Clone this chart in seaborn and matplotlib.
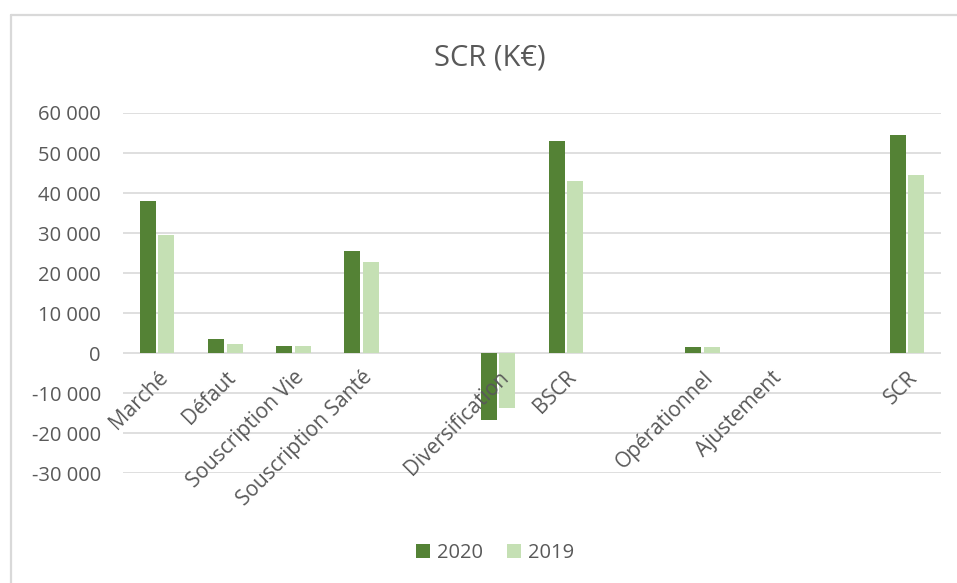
import pandas as pd
import numpy as np
import matplotlib.pyplot as plt
import seaborn as sns
from matplotlib.ticker import FuncFormatter, MultipleLocator
from matplotlib.lines import Line2D

# Data (K€); blank slots are empty categories
categories = ["Marché", "Défaut", "Souscription Vie", "Souscription Santé", " ",
              "Diversification", "BSCR", "  ", "Opérationnel", "Ajustement", "   ", "SCR"]
scr_2020 = [38100, 3500, 1850, 25600, np.nan, -16700, 52900, np.nan, 1500, 0, np.nan, 54600]
scr_2019 = [29500, 2200, 1800, 22700, np.nan, -13800, 43000, np.nan, 1500, 0, np.nan, 44500]
years = ["2020", "2019"]
colors = ["#548235", "#C5E0B4"]

TEXT = "#595959"
GRID = "#D9D9D9"


def build_frame():
    df = pd.DataFrame({
        "Catégorie": categories * 2,
        "Année": [years[0]] * len(categories) + [years[1]] * len(categories),
        "Valeur": scr_2020 + scr_2019,
    })
    return df.dropna()


def plot_scr():
    sns.set_theme(style="white")
    plt.rcParams["font.family"] = ["Open Sans", "DejaVu Sans"]

    df = build_frame()

    fig = plt.figure(figsize=(9.57, 5.83), dpi=100)
    W, H = 957, 583
    ax = fig.add_axes([123 / W, 1 - 473.3 / H, (941 - 123) / W, (473.3 - 113) / H])

    sns.barplot(data=df, x="Catégorie", y="Valeur", hue="Année",
                order=categories, hue_order=years, palette=colors,
                saturation=1, width=0.55, gap=0.15, errorbar=None,
                linewidth=0, zorder=1, ax=ax)

    ax.set_ylim(-30000, 60000)
    ax.set_xlim(-0.5, len(categories) - 0.5)
    ax.yaxis.set_major_locator(MultipleLocator(10000))
    ax.yaxis.set_major_formatter(FuncFormatter(lambda v, p: f"{v:,.0f}".replace(",", " ")))

    # gridlines behind the bars, tick labels stay on top
    ax.grid(False)
    for t in ax.get_yticks():
        if -30000 <= t <= 60000:
            ax.axhline(t, color=GRID, linewidth=1.2, zorder=0.5)
    for s in ax.spines.values():
        s.set_visible(False)

    # category labels sit just under the zero line, like Excel
    ax.spines["bottom"].set_position(("data", 0))
    ax.tick_params(axis="x", length=0, pad=10, labelsize=15, labelcolor=TEXT)
    ax.tick_params(axis="y", length=0, pad=16, labelsize=14.5, labelcolor=TEXT)
    for lab in ax.get_xticklabels():
        lab.set_rotation(45)
        lab.set_ha("right")
        lab.set_va("top")
        lab.set_rotation_mode("anchor")
    ax.xaxis.set_zorder(3)

    ax.set_xlabel("")
    ax.set_ylabel("")

    handles, labels = ax.get_legend_handles_labels()
    ax.get_legend().remove()
    fig.legend(handles, labels, loc="center", bbox_to_anchor=(495 / W, 1 - 553 / H),
               ncol=2, frameon=False, fontsize=14.5, labelcolor=TEXT,
               handlelength=0.7, handleheight=0.7, handletextpad=0.35, columnspacing=1.2)

    fig.text(490 / W, 1 - 58 / H, "SCR (K€)", ha="center", va="center",
             fontsize=21, color=TEXT)

    # chart frame (only left and top edges are visible in the crop)
    fig.add_artist(Line2D([10.5 / W, 10.5 / W], [0, 1 - 14.5 / H], color=GRID, linewidth=1.6))
    fig.add_artist(Line2D([10.5 / W, 1], [1 - 14.5 / H, 1 - 14.5 / H], color=GRID, linewidth=1.6))

    fig.savefig("out.png", dpi=100)
    plt.close(fig)


if __name__ == "__main__":
    plot_scr()
